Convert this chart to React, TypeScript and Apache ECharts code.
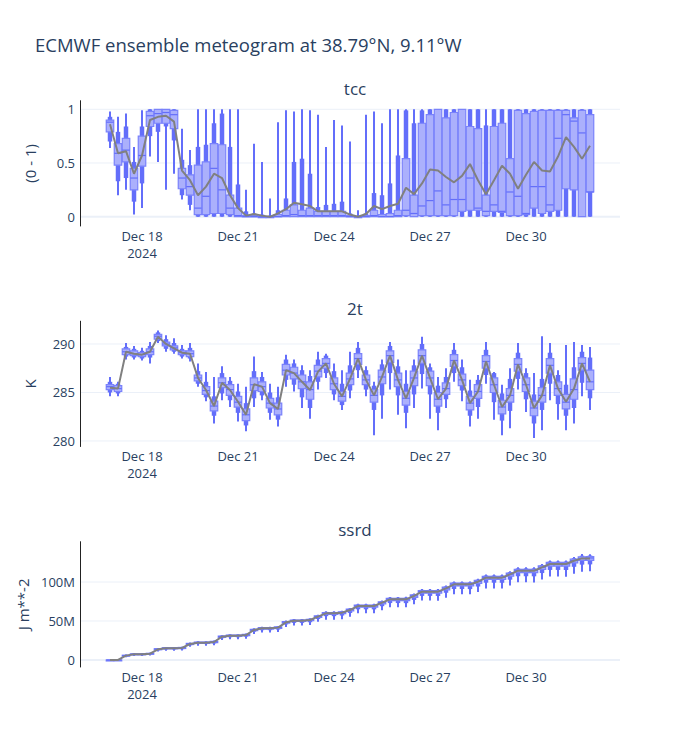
import React, { useEffect, useRef } from "react";
import * as echarts from "echarts";

// Forecast steps (hours after 2024-12-17 00:00 UTC)
const BASE_TIME = Date.UTC(2024, 11, 17, 0, 0);
const STEPS = [
  0, 6, 12, 18, 24, 30, 36, 42, 48, 54, 60, 66, 72, 78, 84, 90, 96, 102, 108, 114,
  120, 126, 132, 138, 144, 150, 156, 162, 168, 174, 180, 186, 192, 198, 204, 210,
  216, 222, 228, 234, 240, 246, 252, 258, 264, 270, 276, 282, 288, 294, 300, 306,
  312, 318, 324, 330, 336, 342, 348, 354, 360,
];
const X_TICKS = [24, 96, 168, 240, 312];
const MONTHS = ["Jan", "Feb", "Mar", "Apr", "May", "Jun", "Jul", "Aug", "Sep", "Oct", "Nov", "Dec"];

// Ensemble quantiles per step: [min, p10, p25, median, p75, p90, max]
const TCC_BOXES = [
  [0.64, 0.7, 0.79, 0.88, 0.9, 0.93, 0.98],
  [0.2, 0.33, 0.48, 0.59, 0.68, 0.79, 0.93],
  [0.25, 0.36, 0.51, 0.62, 0.73, 0.84, 0.96],
  [0.02, 0.14, 0.25, 0.36, 0.45, 0.51, 0.65],
  [0.08, 0.31, 0.47, 0.57, 0.75, 0.84, 0.99],
  [0.56, 0.75, 0.84, 0.94, 0.98, 1.0, 1.0],
  [0.51, 0.79, 0.87, 0.96, 1.0, 1.0, 1.0],
  [0.25, 0.84, 0.87, 0.97, 1.0, 1.0, 1.0],
  [0.4, 0.71, 0.82, 0.95, 0.99, 1.0, 1.0],
  [0.16, 0.2, 0.26, 0.36, 0.45, 0.53, 0.82],
  [0.06, 0.11, 0.2, 0.28, 0.39, 0.48, 0.62],
  [0, 0, 0.02, 0.08, 0.48, 0.65, 1.0],
  [0, 0, 0.02, 0.19, 0.51, 0.67, 1.0],
  [0, 0, 0.03, 0.45, 0.68, 0.87, 1.0],
  [0, 0, 0.03, 0.25, 0.67, 0.96, 1.0],
  [0, 0, 0.02, 0.08, 0.2, 0.65, 1.0],
  [0, 0, 0, 0.01, 0.08, 0.3, 1.0],
  [0, 0, 0, 0, 0.01, 0.05, 0.25],
  [0, 0, 0, 0, 0.01, 0.03, 0.68],
  [0, 0, 0, 0, 0, 0.02, 0.51],
  [0, 0, 0, 0, 0, 0.01, 0.17],
  [0, 0, 0, 0, 0.02, 0.06, 0.88],
  [0, 0, 0, 0.01, 0.06, 0.17, 0.99],
  [0, 0, 0, 0.02, 0.11, 0.51, 0.98],
  [0, 0, 0, 0.01, 0.06, 0.54, 1.0],
  [0, 0, 0, 0.01, 0.08, 0.4, 0.99],
  [0, 0, 0, 0.01, 0.05, 0.09, 0.95],
  [0, 0, 0, 0.01, 0.05, 0.11, 0.65],
  [0, 0, 0, 0.01, 0.05, 0.12, 0.9],
  [0, 0, 0, 0.01, 0.05, 0.14, 0.85],
  [0, 0, 0, 0, 0.01, 0.03, 0.7],
  [0, 0, 0, 0, 0, 0.01, 0.06],
  [0, 0, 0, 0, 0.01, 0.03, 0.95],
  [0, 0, 0, 0.01, 0.06, 0.22, 0.98],
  [0, 0, 0, 0, 0.02, 0.2, 0.87],
  [0, 0, 0, 0, 0.03, 0.31, 1.0],
  [0, 0, 0, 0.01, 0.06, 0.57, 1.0],
  [0, 0, 0.01, 0.06, 0.54, 0.99, 1.0],
  [0, 0, 0, 0.03, 0.2, 0.87, 1.0],
  [0, 0, 0.01, 0.1, 0.87, 0.99, 1.0],
  [0, 0, 0.01, 0.15, 0.95, 1.0, 1.0],
  [0, 0, 0.01, 0.24, 1.0, 1.0, 1.0],
  [0, 0, 0.01, 0.11, 0.92, 1.0, 1.0],
  [0, 0, 0.01, 0.16, 0.97, 1.0, 1.0],
  [0, 0, 0.05, 0.16, 1.0, 1.0, 1.0],
  [0, 0, 0.06, 0.36, 0.84, 1.0, 1.0],
  [0, 0, 0.06, 0.08, 0.82, 1.0, 1.0],
  [0, 0, 0.01, 0.05, 0.2, 0.85, 1.0],
  [0, 0, 0.05, 0.11, 0.84, 1.0, 1.0],
  [0, 0, 0.04, 0.05, 0.87, 1.0, 1.0],
  [0, 0, 0.01, 0.23, 0.54, 1.0, 1.0],
  [0, 0, 0.01, 0.19, 0.99, 1.0, 1.0],
  [0, 0, 0.02, 0.03, 0.96, 1.0, 1.0],
  [0, 0, 0.08, 0.28, 0.98, 1.0, 1.0],
  [0, 0, 0.03, 0.28, 0.99, 1.0, 1.0],
  [0, 0, 0.05, 0.11, 0.99, 1.0, 1.0],
  [0, 0, 0.06, 0.73, 0.99, 1.0, 1.0],
  [0, 0, 0.26, 0.95, 0.99, 1.0, 1.0],
  [0, 0, 0.25, 0.89, 0.92, 1.0, 1.0],
  [0, 0, 0.0, 0.78, 0.99, 1.0, 1.0],
  [0, 0, 0.23, 0.23, 0.95, 1.0, 1.0],
];
const TCC_MEAN = [
  0.86, 0.59, 0.61, 0.4, 0.57, 0.9, 0.93, 0.94, 0.885, 0.43, 0.34, 0.2, 0.28, 0.4,
  0.36, 0.2, 0.08, 0.01, 0.025, 0.01, 0.0, 0.03, 0.07, 0.13, 0.115, 0.1, 0.05, 0.05,
  0.05, 0.05, 0.02, 0.0, 0.025, 0.1, 0.07, 0.1, 0.12, 0.27, 0.21, 0.31, 0.44, 0.43,
  0.37, 0.32, 0.38, 0.49, 0.34, 0.21, 0.34, 0.475, 0.4, 0.26, 0.39, 0.51, 0.43, 0.42,
  0.56, 0.74, 0.65, 0.54, 0.66,
];

const T2M_BOXES = [
  [284.6, 285.0, 285.3, 285.6, 285.8, 286.1, 286.6],
  [284.6, 284.9, 285.1, 285.4, 285.7, 285.9, 286.1],
  [288.4, 288.7, 288.9, 289.2, 289.5, 289.7, 290.1],
  [288.4, 288.6, 288.8, 289.0, 289.3, 289.5, 289.8],
  [288.3, 288.5, 288.7, 288.9, 289.1, 289.3, 289.6],
  [288.0, 288.6, 288.9, 289.2, 289.5, 289.8, 290.2],
  [290.1, 290.3, 290.5, 290.8, 291.0, 291.2, 291.4],
  [289.2, 289.5, 289.8, 290.0, 290.2, 290.5, 290.9],
  [289.0, 289.2, 289.4, 289.6, 289.8, 290.1, 290.6],
  [288.5, 288.7, 288.9, 289.1, 289.3, 289.5, 289.9],
  [288.2, 288.5, 288.7, 289.0, 289.3, 289.6, 290.1],
  [285.6, 285.9, 286.2, 286.5, 286.8, 287.2, 288.0],
  [284.1, 284.5, 284.8, 285.2, 285.6, 286.1, 287.1],
  [281.8, 282.6, 283.1, 283.6, 284.1, 284.6, 286.6],
  [284.2, 284.9, 285.5, 286.0, 286.5, 287.0, 287.7],
  [283.5, 284.2, 284.7, 285.3, 285.8, 286.2, 286.6],
  [282.0, 282.9, 283.5, 284.0, 284.6, 285.1, 285.9],
  [281.0, 281.6, 282.1, 282.7, 283.3, 283.9, 285.6],
  [283.5, 284.4, 285.2, 285.8, 286.5, 287.2, 288.7],
  [284.2, 284.7, 285.1, 285.6, 286.1, 286.6, 287.1],
  [282.2, 282.9, 283.4, 283.9, 284.4, 285.0, 285.9],
  [281.5, 282.2, 282.7, 283.3, 283.9, 284.5, 285.6],
  [285.6, 286.3, 286.8, 287.3, 287.9, 288.4, 288.9],
  [285.1, 285.8, 286.4, 287.0, 287.6, 288.0, 288.4],
  [283.4, 284.5, 285.4, 286.1, 286.8, 287.3, 287.8],
  [282.3, 283.4, 284.3, 285.3, 286.1, 286.7, 287.3],
  [285.3, 286.1, 286.6, 287.2, 287.8, 288.4, 289.2],
  [286.5, 287.0, 287.5, 288.0, 288.5, 288.8, 289.0],
  [284.2, 284.8, 285.3, 285.9, 286.5, 287.2, 288.0],
  [283.2, 283.7, 284.1, 284.6, 285.1, 285.9, 287.3],
  [284.4, 285.2, 285.8, 286.4, 287.0, 287.8, 289.2],
  [286.5, 287.3, 287.9, 288.5, 289.0, 289.6, 290.2],
  [284.6, 285.3, 285.8, 286.3, 286.8, 287.3, 287.7],
  [280.6, 283.2, 284.0, 284.7, 285.3, 285.7, 286.1],
  [282.3, 284.7, 285.9, 286.6, 287.3, 287.9, 288.4],
  [285.3, 287.0, 288.1, 288.8, 289.3, 289.8, 290.2],
  [282.7, 284.7, 285.6, 286.3, 287.0, 287.7, 288.4],
  [281.3, 282.9, 283.7, 284.4, 285.1, 285.9, 287.3],
  [283.4, 284.8, 285.7, 286.5, 287.2, 287.8, 288.4],
  [285.4, 286.9, 288.0, 288.8, 289.4, 290.0, 290.75],
  [282.3, 284.8, 285.7, 286.5, 287.2, 287.6, 288.0],
  [281.1, 282.9, 283.6, 284.3, 285.0, 285.7, 286.6],
  [283.4, 284.3, 284.8, 285.4, 286.0, 286.6, 287.5],
  [286.1, 287.0, 287.7, 288.3, 288.9, 289.4, 290.1],
  [284.1, 285.2, 285.7, 286.3, 286.9, 287.6, 288.4],
  [281.5, 282.6, 283.2, 283.9, 284.6, 285.2, 286.3],
  [282.3, 283.5, 284.4, 285.1, 285.8, 286.3, 286.8],
  [285.9, 286.8, 287.5, 288.2, 288.8, 289.4, 290.2],
  [282.2, 284.0, 285.0, 285.8, 286.5, 287.0, 287.1],
  [280.6, 282.1, 282.8, 283.5, 284.2, 284.9, 285.8],
  [281.3, 283.1, 284.0, 284.7, 285.4, 286.4, 287.5],
  [285.3, 286.4, 287.2, 287.9, 288.5, 289.1, 290.1],
  [283.0, 284.3, 285.1, 285.8, 286.5, 287.0, 287.5],
  [280.3, 281.8, 282.6, 283.4, 284.1, 284.8, 287.0],
  [281.1, 283.2, 284.0, 284.7, 285.5, 286.4, 290.8],
  [284.2, 285.9, 287.0, 287.8, 288.5, 289.1, 290.1],
  [282.2, 283.8, 284.7, 285.4, 286.1, 286.8, 287.3],
  [281.1, 282.6, 283.3, 284.0, 284.8, 285.8, 289.9],
  [281.8, 283.4, 284.3, 285.3, 286.4, 287.6, 290.2],
  [284.6, 286.0, 287.3, 288.0, 288.6, 289.2, 289.9],
  [283.2, 284.4, 285.3, 286.1, 287.3, 288.6, 289.7],
];
const T2M_MEAN = [
  285.5, 285.4, 289.2, 289.0, 288.9, 289.2, 290.75, 290.0, 289.55, 289.1, 289.0,
  286.5, 285.25, 283.6, 286.0, 285.25, 284.05, 282.7, 285.85, 285.6, 283.9, 283.3,
  287.3, 287.0, 286.1, 285.25, 287.15, 288.0, 285.9, 284.6, 286.4, 288.5, 286.3,
  284.7, 286.6, 288.8, 286.3, 284.4, 286.5, 288.8, 286.5, 284.3, 285.4, 288.3, 286.3,
  283.9, 285.1, 288.2, 285.8, 283.5, 284.7, 287.9, 285.8, 283.4, 284.7, 287.8, 285.4,
  284.05, 285.4, 288.0, 286.1,
];

const SSRD_BOXES = [
  [0, 0, 0, 0, 0, 0, 0],
  [0, 0, 0, 0, 0.1e6, 0.2e6, 0.4e6],
  [3.6e6, 4.6e6, 5.1e6, 5.7e6, 6.1e6, 6.5e6, 6.9e6],
  [5.0e6, 6.2e6, 6.8e6, 7.4e6, 7.8e6, 8.2e6, 8.6e6],
  [5.0e6, 6.2e6, 6.8e6, 7.4e6, 7.8e6, 8.2e6, 8.6e6],
  [5.6e6, 6.9e6, 7.6e6, 8.2e6, 8.6e6, 9.0e6, 9.4e6],
  [10.8e6, 12.3e6, 13.1e6, 13.9e6, 14.4e6, 14.9e6, 15.3e6],
  [11.8e6, 13.5e6, 14.3e6, 15.2e6, 15.7e6, 16.2e6, 16.6e6],
  [11.8e6, 13.5e6, 14.3e6, 15.2e6, 15.7e6, 16.2e6, 16.6e6],
  [12.1e6, 13.8e6, 14.7e6, 15.6e6, 16.1e6, 16.6e6, 17.0e6],
  [16.9e6, 18.8e6, 19.8e6, 20.7e6, 21.3e6, 21.8e6, 22.3e6],
  [18.3e6, 20.4e6, 21.4e6, 22.4e6, 23.0e6, 23.5e6, 24.0e6],
  [18.3e6, 20.4e6, 21.4e6, 22.4e6, 23.0e6, 23.5e6, 24.0e6],
  [19.0e6, 21.2e6, 22.3e6, 23.3e6, 23.9e6, 24.4e6, 24.9e6],
  [25.5e6, 27.9e6, 29.1e6, 30.1e6, 30.7e6, 31.3e6, 31.8e6],
  [26.6e6, 29.1e6, 30.4e6, 31.4e6, 32.0e6, 32.6e6, 33.1e6],
  [26.6e6, 29.1e6, 30.4e6, 31.4e6, 32.0e6, 32.6e6, 33.1e6],
  [27.3e6, 29.9e6, 31.2e6, 32.2e6, 32.8e6, 33.4e6, 33.9e6],
  [33.3e6, 36.2e6, 37.6e6, 38.7e6, 39.4e6, 40.0e6, 40.6e6],
  [35.1e6, 38.2e6, 39.7e6, 40.8e6, 41.5e6, 42.1e6, 42.7e6],
  [35.1e6, 38.2e6, 39.7e6, 40.8e6, 41.5e6, 42.1e6, 42.7e6],
  [35.9e6, 39.0e6, 40.6e6, 41.7e6, 42.4e6, 43.0e6, 43.6e6],
  [42.4e6, 45.6e6, 47.3e6, 48.5e6, 49.2e6, 49.9e6, 50.5e6],
  [44.2e6, 47.6e6, 49.4e6, 50.6e6, 51.3e6, 52.0e6, 52.6e6],
  [44.2e6, 47.6e6, 49.4e6, 50.6e6, 51.3e6, 52.0e6, 52.6e6],
  [45.0e6, 48.4e6, 50.3e6, 51.5e6, 52.2e6, 52.9e6, 53.5e6],
  [49.0e6, 52.6e6, 54.5e6, 55.8e6, 56.6e6, 57.3e6, 58.0e6],
  [51.5e6, 56.2e6, 58.6e6, 60.0e6, 60.9e6, 61.7e6, 62.4e6],
  [51.5e6, 56.2e6, 58.6e6, 60.0e6, 60.9e6, 61.7e6, 62.4e6],
  [52.2e6, 57.0e6, 59.5e6, 60.9e6, 61.8e6, 62.6e6, 63.3e6],
  [55.6e6, 60.3e6, 62.8e6, 64.3e6, 65.2e6, 66.0e6, 66.8e6],
  [60.0e6, 65.0e6, 67.8e6, 69.4e6, 70.4e6, 71.2e6, 72.0e6],
  [60.0e6, 65.0e6, 67.8e6, 69.4e6, 70.4e6, 71.2e6, 72.0e6],
  [59.8e6, 64.9e6, 67.8e6, 69.4e6, 70.4e6, 71.2e6, 72.1e6],
  [63.9e6, 69.0e6, 72.0e6, 73.7e6, 74.7e6, 75.6e6, 76.4e6],
  [67.6e6, 73.0e6, 76.2e6, 78.0e6, 79.1e6, 80.0e6, 80.9e6],
  [67.6e6, 73.0e6, 76.2e6, 78.0e6, 79.1e6, 80.0e6, 80.9e6],
  [67.5e6, 72.9e6, 76.2e6, 78.0e6, 79.1e6, 80.0e6, 81.0e6],
  [71.4e6, 77.0e6, 80.4e6, 82.3e6, 83.4e6, 84.4e6, 85.3e6],
  [76.2e6, 82.2e6, 85.8e6, 87.8e6, 89.0e6, 90.0e6, 91.0e6],
  [76.2e6, 82.2e6, 85.8e6, 87.8e6, 89.0e6, 90.0e6, 91.0e6],
  [76.1e6, 82.1e6, 85.8e6, 87.8e6, 89.0e6, 90.0e6, 91.1e6],
  [79.9e6, 86.2e6, 90.0e6, 92.1e6, 93.4e6, 94.4e6, 95.4e6],
  [84.4e6, 91.0e6, 95.0e6, 97.2e6, 98.6e6, 99.6e6, 100.7e6],
  [84.4e6, 91.0e6, 95.0e6, 97.2e6, 98.6e6, 99.6e6, 100.7e6],
  [84.3e6, 90.9e6, 95.0e6, 97.2e6, 98.6e6, 99.6e6, 100.8e6],
  [87.3e6, 94.2e6, 98.3e6, 100.6e6, 102.0e6, 103.1e6, 104.2e6],
  [91.8e6, 99.1e6, 103.4e6, 105.8e6, 107.3e6, 108.4e6, 109.6e6],
  [91.8e6, 99.1e6, 103.4e6, 105.8e6, 107.3e6, 108.4e6, 109.6e6],
  [91.7e6, 99.0e6, 103.4e6, 105.8e6, 107.3e6, 108.4e6, 109.7e6],
  [95.5e6, 103.0e6, 107.5e6, 110.0e6, 111.5e6, 112.7e6, 113.9e6],
  [99.6e6, 107.4e6, 112.1e6, 114.7e6, 116.3e6, 117.5e6, 118.8e6],
  [99.6e6, 107.4e6, 112.1e6, 114.7e6, 116.3e6, 117.5e6, 118.8e6],
  [99.5e6, 107.3e6, 112.1e6, 114.7e6, 116.3e6, 117.5e6, 118.9e6],
  [103.3e6, 111.5e6, 116.3e6, 119.0e6, 120.7e6, 121.9e6, 123.2e6],
  [107.0e6, 115.5e6, 120.5e6, 123.3e6, 125.1e6, 126.3e6, 127.6e6],
  [107.0e6, 115.5e6, 120.5e6, 123.3e6, 125.1e6, 126.3e6, 127.6e6],
  [106.9e6, 115.4e6, 120.5e6, 123.3e6, 125.1e6, 126.3e6, 127.7e6],
  [110.7e6, 119.5e6, 124.6e6, 127.5e6, 129.3e6, 130.6e6, 132.0e6],
  [113.3e6, 122.3e6, 127.6e6, 130.5e6, 132.4e6, 133.8e6, 136.0e6],
  [113.9e6, 122.6e6, 127.8e6, 130.8e6, 132.6e6, 134.0e6, 135.5e6],
];
const SSRD_MEAN = [
  0, 0, 5.6e6, 7.3e6, 7.3e6, 8.1e6, 13.7e6, 15.0e6, 15.0e6, 15.4e6, 20.5e6, 22.2e6,
  22.2e6, 23.1e6, 29.9e6, 31.2e6, 31.2e6, 32.0e6, 38.5e6, 40.6e6, 40.6e6, 41.5e6,
  48.3e6, 50.4e6, 50.4e6, 51.3e6, 55.6e6, 59.8e6, 59.8e6, 60.7e6, 64.1e6, 69.2e6,
  69.2e6, 69.2e6, 73.5e6, 77.8e6, 77.8e6, 77.8e6, 82.1e6, 87.6e6, 87.6e6, 87.6e6,
  91.9e6, 97.0e6, 97.0e6, 97.0e6, 100.4e6, 105.6e6, 105.6e6, 105.6e6, 109.8e6,
  114.5e6, 114.5e6, 114.5e6, 118.8e6, 123.1e6, 123.1e6, 123.1e6, 127.3e6, 130.3e6,
  130.3e6,
];

const TCC_TICKS = [0, 0.5, 1];
const T2M_TICKS = [280, 285, 290];
const SSRD_TICKS = [0, 50e6, 100e6];

const FONT = '"Open Sans", verdana, arial, sans-serif';
const TEXT = "#2a3f5f";
const BLUE = "#636efa";
const LIGHT = "#abb0fc";
const GRID_COLOR = "#ebf0f8";
const MEAN_COLOR = "#808080";

const X_MIN = -22.5;
const X_MAX = 382.5;

const PANELS = [
  {
    title: "tcc",
    unit: "(0 - 1)",
    boxes: TCC_BOXES,
    mean: TCC_MEAN,
    ticks: TCC_TICKS,
    min: -0.0866,
    max: 1.08,
    top: 100.7,
    fmt: (v: number) => String(v),
  },
  {
    title: "2t",
    unit: "K",
    boxes: T2M_BOXES,
    mean: T2M_MEAN,
    ticks: T2M_TICKS,
    min: 279.43,
    max: 292.35,
    top: 321.2,
    fmt: (v: number) => String(v),
  },
  {
    title: "ssrd",
    unit: "J m**-2",
    boxes: SSRD_BOXES,
    mean: SSRD_MEAN,
    ticks: SSRD_TICKS,
    min: -9e6,
    max: 151.7e6,
    top: 541.7,
    fmt: (v: number) => (v === 0 ? "0" : `${Math.round(v / 1e6)}M`),
  },
];
const PANEL_HEIGHT = 125.3;

function stepLabel(step: number, first: boolean): string {
  const d = new Date(BASE_TIME + step * 3600 * 1000);
  const s = `${MONTHS[d.getUTCMonth()]} ${d.getUTCDate()}`;
  return first ? `${s}\n${d.getUTCFullYear()}` : s;
}

// One ensemble glyph: whisker (min-max), narrow p10-p90 bar, wide p25-p75 box, median tick
function renderBox(_params: any, api: any) {
  const step = api.value(0);
  const q = [1, 2, 3, 4, 5, 6, 7].map((k) => api.value(k));
  const px = api.coord([step, q[3]])[0];
  const y = (v: number) => api.coord([step, v])[1];
  const wide = 7.5;
  const narrow = 4.5;
  const y25 = y(q[2]);
  const y75 = y(q[4]);
  return {
    type: "group",
    children: [
      {
        type: "line",
        shape: { x1: px, y1: y(q[0]), x2: px, y2: y(q[6]) },
        style: { stroke: BLUE, lineWidth: 2 },
      },
      {
        type: "rect",
        shape: { x: px - narrow / 2, y: y(q[5]), width: narrow, height: Math.max(y(q[1]) - y(q[5]), 1) },
        style: { fill: BLUE },
      },
      {
        type: "rect",
        shape: { x: px - wide / 2, y: y75, width: wide, height: Math.max(y25 - y75, 1) },
        style: { fill: LIGHT, stroke: "#7a82fb", lineWidth: 1.2 },
      },
      {
        type: "line",
        shape: { x1: px - wide / 2, y1: y(q[3]), x2: px + wide / 2, y2: y(q[3]) },
        style: { stroke: BLUE, lineWidth: 1.2 },
      },
    ],
  };
}

// Horizontal gridline across the plotting area at a tick value
function renderGridLine(params: any, api: any) {
  const v = api.value(1);
  const cs = params.coordSys;
  const yy = api.coord([X_MIN, v])[1];
  return {
    type: "line",
    shape: { x1: cs.x, y1: yy, x2: cs.x + cs.width, y2: yy },
    style: { stroke: GRID_COLOR, lineWidth: v === 0 ? 2 : 1 },
  };
}

export default function App() {
  const ref = useRef<HTMLDivElement>(null);

  useEffect(() => {
    if (!ref.current) return;
    const chart = echarts.init(ref.current, undefined, { renderer: "svg" });

    const grids = PANELS.map((p) => ({ left: 80, width: 540, top: p.top, height: PANEL_HEIGHT }));

    const xAxes = PANELS.map((_p, i) => ({
      type: "value",
      gridIndex: i,
      min: X_MIN,
      max: X_MAX,
      axisLine: { show: false, onZero: false },
      axisTick: { show: false },
      splitLine: { show: false },
      axisLabel: {
        customValues: X_TICKS,
        formatter: (v: number) => stepLabel(v, v === X_TICKS[0]),
        color: TEXT,
        fontFamily: FONT,
        fontSize: 13,
        lineHeight: 17,
        margin: 1,
      },
    }));

    const yAxes = PANELS.map((p, i) => ({
      type: "value",
      gridIndex: i,
      min: p.min,
      max: p.max,
      axisLine: { show: true, onZero: false, lineStyle: { color: "#222", width: 1 } },
      axisTick: { show: false },
      splitLine: { show: false },
      axisLabel: {
        customValues: p.ticks,
        formatter: p.fmt,
        color: TEXT,
        fontFamily: FONT,
        fontSize: 13,
        margin: 5,
      },
      name: p.unit,
      nameLocation: "middle",
      nameGap: 43,
      nameRotate: 90,
      nameTextStyle: { color: TEXT, fontFamily: FONT, fontSize: 15 },
    }));

    const series: any[] = [];
    PANELS.forEach((p, i) => {
      series.push({
        type: "custom",
        xAxisIndex: i,
        yAxisIndex: i,
        z: 0,
        silent: true,
        renderItem: renderGridLine,
        data: p.ticks.map((t) => [X_MIN, t]),
      });
      series.push({
        type: "custom",
        xAxisIndex: i,
        yAxisIndex: i,
        z: 2,
        silent: true,
        renderItem: renderBox,
        encode: { x: 0, y: [1, 2, 3, 4, 5, 6, 7] },
        data: STEPS.map((s, k) => [s, ...p.boxes[k]]),
      });
      series.push({
        type: "line",
        xAxisIndex: i,
        yAxisIndex: i,
        z: 3,
        silent: true,
        showSymbol: false,
        lineStyle: { color: MEAN_COLOR, width: 2 },
        data: STEPS.map((s, k) => [s, p.mean[k]]),
      });
    });

    chart.setOption({
      animation: false,
      backgroundColor: "#fff",
      textStyle: { fontFamily: FONT },
      title: [
        {
          text: "ECMWF ensemble meteogram at 38.79°N, 9.11°W",
          left: 30,
          top: 30,
          textStyle: { color: TEXT, fontFamily: FONT, fontSize: 18.5, fontWeight: "normal" },
        },
        ...PANELS.map((p) => ({
          text: p.title,
          left: 350,
          top: p.top - 26,
          textAlign: "center",
          textStyle: { color: TEXT, fontFamily: FONT, fontSize: 17, fontWeight: "normal" },
        })),
      ],
      grid: grids,
      xAxis: xAxes,
      yAxis: yAxes,
      series,
    });

    return () => chart.dispose();
  }, []);

  return (
    <div
      ref={ref}
      style={{ position: "fixed", left: 0, top: 0, width: 700, height: 750, background: "#fff" }}
    />
  );
}
